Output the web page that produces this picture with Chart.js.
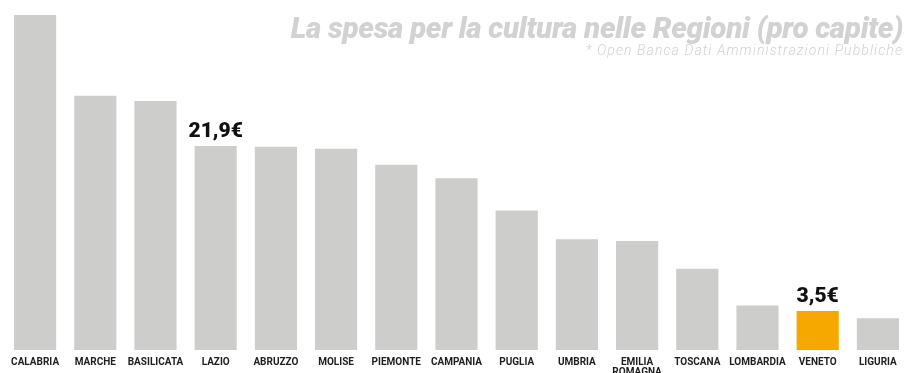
<!DOCTYPE html>
<html>
<head>
<meta charset="utf-8">
<script src="https://cdn.jsdelivr.net/npm/chart.js@4.4.1/dist/chart.umd.min.js"></script>
<style>
  html, body { margin: 0; padding: 0; background: #ffffff; }
  #wrap { position: relative; width: 908px; height: 373px; overflow: hidden; }
  #title { position: absolute; right: 5px; top: 11px; font-family: Roboto, sans-serif; font-weight: 900; font-style: italic; font-size: 29.6px; color: #d2d2d2; white-space: nowrap; line-height: 34px; letter-spacing: -0.3px; }
  #subtitle { position: absolute; right: 5px; top: 43px; font-family: Roboto, sans-serif; font-weight: 300; font-style: italic; font-size: 14px; color: #d2d2d2; white-space: nowrap; line-height: 15px; letter-spacing: 1.1px; }
  canvas { position: absolute; left: 0; top: 0; }
</style>
</head>
<body>
<div id="wrap">
  <canvas id="c" width="908" height="373"></canvas>
  <div id="title">La spesa per la cultura nelle Regioni (pro capite)</div>
  <div id="subtitle">* Open Banca Dati Amministrazioni Pubbliche</div>
</div>
<script>
const regions = ['CALABRIA','MARCHE','BASILICATA','LAZIO','ABRUZZO','MOLISE','PIEMONTE','CAMPANIA','PUGLIA','UMBRIA',['EMILIA','ROMAGNA'],'TOSCANA','LOMBARDIA','VENETO','LIGURIA'];
const spesaProCapite = [36.5, 27.5, 26.9, 21.9, 21.8, 21.6, 19.8, 18.3, 14.7, 11.5, 11.3, 8.2, 4.1, 3.5, 2.7];
const highlighted = ['VENETO'];
const valueLabels = { 'LAZIO': '21,9€', 'VENETO': '3,5€' };
const axisMin = -0.85;
const axisMax = 36.5;

const barColors = regions.map(r => highlighted.includes(r) ? '#f6a800' : '#cdcdcc');

const labelPlugin = {
  id: 'valueLabels',
  afterDatasetsDraw(chart) {
    const ctx = chart.ctx;
    const meta = chart.getDatasetMeta(0);
    ctx.save();
    ctx.font = '900 21px Roboto, sans-serif';
    ctx.fillStyle = '#111111';
    ctx.textAlign = 'center';
    ctx.textBaseline = 'alphabetic';
    regions.forEach((r, i) => {
      const key = Array.isArray(r) ? r.join(' ') : r;
      if (valueLabels[key]) {
        const el = meta.data[i];
        ctx.fillText(valueLabels[key], el.x, el.y - 9);
      }
    });
    ctx.restore();
  }
};

new Chart(document.getElementById('c'), {
  type: 'bar',
  data: {
    labels: regions,
    datasets: [{
      data: spesaProCapite,
      base: axisMin,
      backgroundColor: barColors,
      borderWidth: 0,
      categoryPercentage: 1,
      barPercentage: 0.7
    }]
  },
  options: {
    responsive: false,
    animation: false,
    layout: { padding: { left: 5, right: 0, top: 15, bottom: 0 } },
    plugins: { legend: { display: false }, tooltip: { enabled: false } },
    scales: {
      y: { display: false, min: axisMin, max: axisMax },
      x: {
        grid: { display: false, drawTicks: false },
        border: { display: false },
        ticks: {
          autoSkip: false,
          maxRotation: 0,
          minRotation: 0,
          padding: 7,
          color: '#1e1e1e',
          font: { family: 'Roboto, sans-serif', weight: 'bold', size: 10, lineHeight: 1.0 }
        },
        afterFit(scale) { scale.height = 23; }
      }
    }
  },
  plugins: [labelPlugin]
});
</script>
</body>
</html>
